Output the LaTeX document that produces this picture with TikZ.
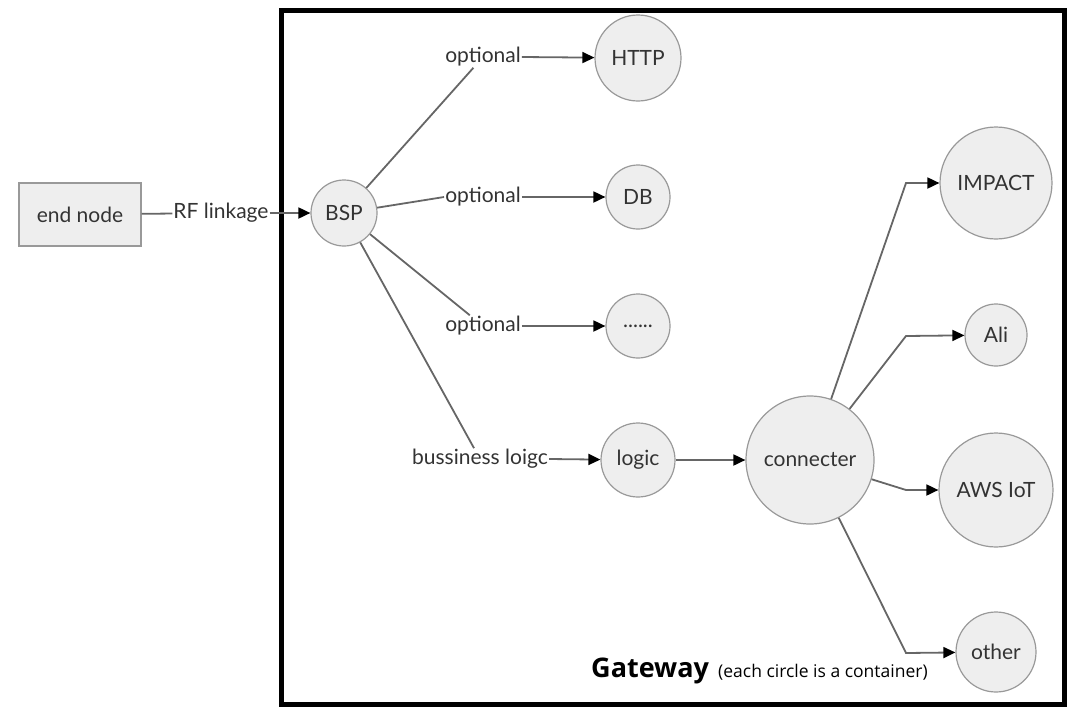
\documentclass[tikz,border=0pt]{standalone}
\usepackage{fontspec}
\setmainfont{Lato}
\newfontfamily\gwfont{Open Sans}
\usetikzlibrary{arrows.meta}
\definecolor{txt}{HTML}{333333}
\definecolor{edge}{HTML}{666666}
\definecolor{cfill}{HTML}{EEEEEE}
\definecolor{cline}{HTML}{999999}
\tikzset{
  cont/.style={circle,draw=cline,fill=cfill,line width=1.2pt,inner sep=0pt,text=txt,font=\fontsize{21}{25}\selectfont},
  lbl/.style={inner sep=1pt,text=txt,font=\fontsize{21}{25}\selectfont},
  conn/.style={draw=edge,line width=1.8pt},
  arr/.style={conn,-{Triangle[length=12pt,width=11pt,color=black]}}
}
\begin{document}
\begin{tikzpicture}[x=1pt,y=-1pt]
\useasboundingbox (0,0) rectangle (1077,710);
% gateway frame
\draw[line width=5pt,black] (281.5,10.5) rectangle (1064.5,704.5);
% nodes
\node[draw=cline,fill=cfill,line width=1.2pt,minimum width=122pt,minimum height=63pt,text=txt,font=\fontsize{21}{25}\selectfont] (end) at (80,214.5) {end node};
\node[cont,minimum size=66pt] (bsp) at (344,213) {BSP};
\node[cont,minimum size=86pt] (http) at (638,58) {HTTP};
\node[cont,minimum size=64pt] (db) at (638,197) {DB};
\node[cont,minimum size=64pt] (dots) at (638,326) {......};
\node[cont,minimum size=74pt] (logic) at (638,460) {logic};
\node[cont,minimum size=128pt] (connecter) at (810,460) {connecter};
\node[cont,minimum size=112pt] (impact) at (996,183) {IMPACT};
\node[cont,minimum size=62pt] (ali) at (996,335) {Ali};
\node[cont,minimum size=114pt] (aws) at (996,490) {AWS IoT};
\node[cont,minimum size=80pt] (other) at (996,652) {other};
% labels
\node[lbl] (rf) at (221,213) {RF linkage};
\node[lbl] (opt1) at (483,57) {optional};
\node[lbl] (opt2) at (483,197) {optional};
\node[lbl] (opt3) at (483,326) {optional};
\node[lbl] (bl) at (480,459) {bussiness loigc};
% elbow points
\coordinate (e1) at (906,183);
\coordinate (e2) at (906,336);
\coordinate (e3) at (906,490);
\coordinate (e4) at (906,653);
% connectors
\draw[conn] (end) -- (rf);
\draw[arr] (rf) -- (bsp);
\draw[conn] (bsp) -- (opt1);
\draw[arr] (opt1.east) -- (http);
\draw[conn] (bsp) -- (opt2.west);
\draw[arr] (opt2.east) -- (db);
\draw[conn] (bsp) -- (opt3);
\draw[arr] (opt3.east) -- (dots);
\draw[conn] (bsp) -- (bl);
\draw[arr] (bl.east) -- (logic);
\draw[arr] (logic) -- (connecter);
\draw[arr] (connecter) -- (e1) -- (impact);
\draw[arr] (connecter) -- (e2) -- (ali);
\draw[arr] (connecter) -- (e3) -- (aws);
\draw[arr] (connecter) -- (e4) -- (other);
% caption
\node[anchor=base west,inner sep=0pt,font=\gwfont\bfseries\fontsize{27}{32}\selectfont] (gw) at (591,677) {Gateway};
\node[anchor=base west,inner sep=0pt,font=\gwfont\fontsize{17.5}{21}\selectfont] (gwnote) at (718,677) {(each circle is a container)};
\end{tikzpicture}
\end{document}
